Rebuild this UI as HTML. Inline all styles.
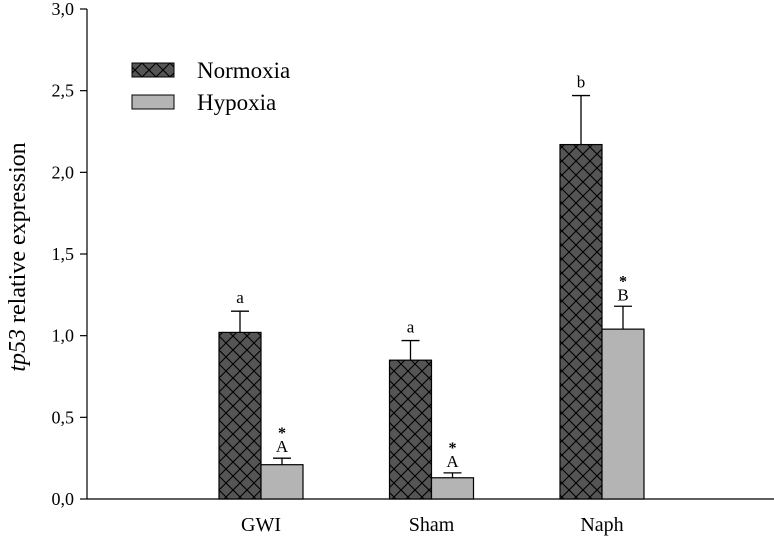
<!DOCTYPE html>
<html><head><meta charset="utf-8"><style>
body{margin:0;background:#fff}
svg{display:block;font-family:"Liberation Serif",serif}
</style></head><body>
<svg id="chart" width="774" height="537" viewBox="0 0 774 537">
<defs>
<pattern id="hatch" patternUnits="userSpaceOnUse" width="14" height="14" x="219" y="0">
<rect width="14" height="14" fill="#555"/>
<path d="M0,0 L14,14 M14,0 L0,14" stroke="#000" stroke-width="1.1"/>
</pattern>
</defs>
<g id="axes"></g>
<g id="bars"></g>
<g>
<rect x="132" y="63" width="42" height="14" fill="url(#hatch)" stroke="#000"/>
<text x="197" y="78" font-size="23">Normoxia</text>
<rect x="132" y="95" width="42" height="14" fill="#b4b4b4" stroke="#000"/>
<text x="197" y="110" font-size="23">Hypoxia</text>
</g>
<text transform="translate(25,257) rotate(-90)" text-anchor="middle" font-size="24"><tspan font-style="italic">tp53</tspan> relative expression</text>
</svg>
<script>
const categories = ["GWI","Sham","Naph"];
const normoxia = [1.02, 0.85, 2.17];
const normoxiaErr = [0.13, 0.12, 0.30];
const hypoxia = [0.21, 0.13, 1.04];
const hypoxiaErr = [0.04, 0.03, 0.14];
const normLabels = ["a","a","b"];
const hypLabels = ["A","A","B"];
const yTicks = [0,0.5,1.0,1.5,2.0,2.5,3.0];
const yTickLabels = ["0,0","0,5","1,0","1,5","2,0","2,5","3,0"];

const NS="http://www.w3.org/2000/svg";
const y0=499, y1=9, yMax=3;
function yScale(v){return y0-(v/yMax)*(y0-y1);}
const catCenters=[261,431,602];
function xCenter(i){return catCenters[0]+i*((catCenters[2]-catCenters[0])/2);}
const bw=42;
function mk(tag,attrs,parent){const e=document.createElementNS(NS,tag);for(const k in attrs)e.setAttribute(k,attrs[k]);parent.appendChild(e);return e;}
const axes=document.getElementById('axes'), bars=document.getElementById('bars');

const yAxis=mk('line',{x1:87,y1:y1,x2:87,y2:y0,stroke:'#000','stroke-width':1.2},axes);


const xAxis=mk('line',{x1:87,y1:y0,x2:774,y2:y0,stroke:'#000','stroke-width':1.2},axes);


yTicks.forEach((t,i)=>{
  const y=yScale(t);
  const tk=mk('line',{x1:80,y1:y,x2:87,y2:y,stroke:'#000','stroke-width':1.2},axes);
  
  
  const lb=mk('text',{x:74,y:y+6,'text-anchor':'end','font-size':18},axes);
  lb.textContent=yTickLabels[i];
  
  
});
categories.forEach((c,i)=>{
  const cx=xCenter(i);
  const lb=mk('text',{x:cx,y:531,'text-anchor':'middle','font-size':20},axes);
  lb.textContent=c;
  
  
  function err(xc,v,e){
    const yt=yScale(v+e);
    const l=mk('path',{d:`M${xc},${yScale(v)} L${xc},${yt} M${xc-9},${yt} L${xc+9},${yt}`,stroke:'#000','stroke-width':1.3,fill:'none'},bars);
    
    
    return yt;
  }
  const yn=err(cx-bw/2,normoxia[i],normoxiaErr[i]);
  const yh=err(cx+bw/2,hypoxia[i],hypoxiaErr[i]);
  const bn=mk('rect',{x:cx-bw,y:yScale(normoxia[i]),width:bw,height:y0-yScale(normoxia[i]),fill:'url(#hatch)',stroke:'#000','stroke-width':1.2},bars);
  
  
  const bh=mk('rect',{x:cx,y:yScale(hypoxia[i]),width:bw,height:y0-yScale(hypoxia[i]),fill:'#b4b4b4',stroke:'#000','stroke-width':1.2},bars);
  
  
  const ln=mk('text',{x:cx-bw/2,y:yn-8,'text-anchor':'middle','font-size':17},bars);
  ln.textContent=normLabels[i];
  
  
  const lh=mk('text',{x:cx+bw/2,y:yh-6,'text-anchor':'middle','font-size':17},bars);
  lh.textContent=hypLabels[i];
  
  
  const st=mk('text',{x:cx+bw/2,y:yh-20,'text-anchor':'middle','font-size':16,'font-weight':'bold'},bars);
  st.textContent='*';
  
  
});
</script>
</body></html>
